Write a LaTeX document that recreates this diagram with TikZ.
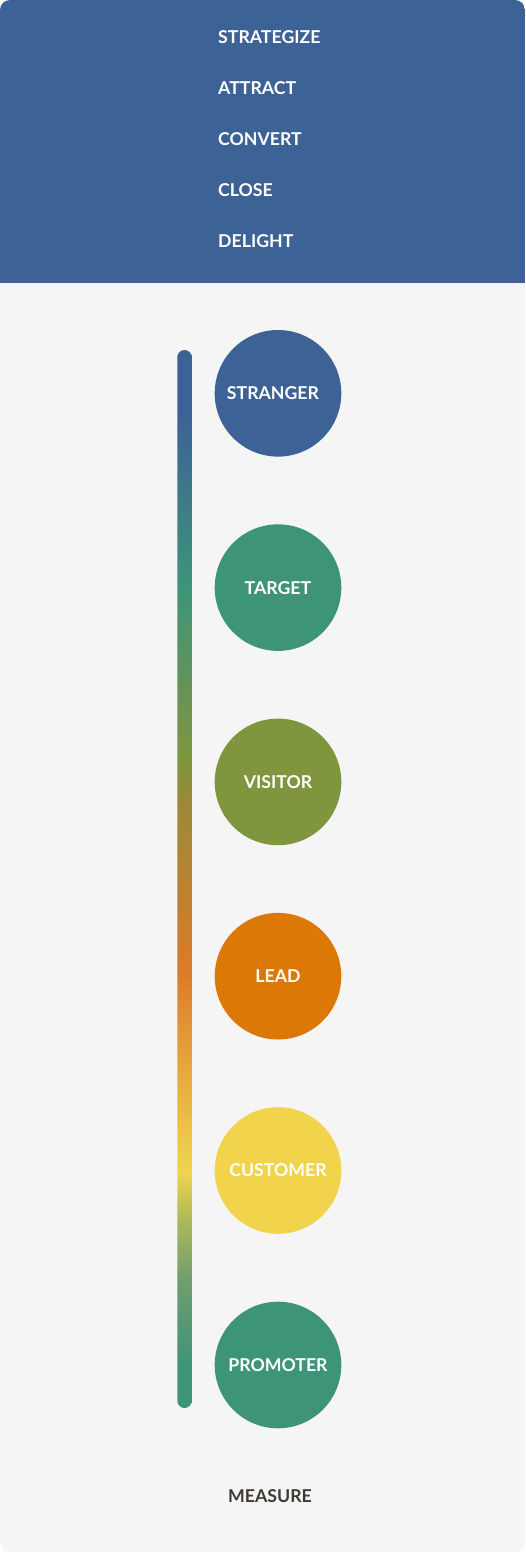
\documentclass[tikz,border=0pt]{standalone}
\usepackage{fontspec}
\newfontfamily\labfont{Lato}
\definecolor{hdrblue}{HTML}{3D6295}
\definecolor{cardbg}{HTML}{F5F5F5}
\definecolor{cteal}{HTML}{3E9479}
\definecolor{cgreen}{HTML}{80963E}
\definecolor{corange}{HTML}{DC7906}
\definecolor{cyellow}{HTML}{F1D44C}
\definecolor{measurec}{HTML}{3F3A35}
\definecolor{gA}{HTML}{6F9E6E}
\definecolor{gB}{HTML}{A8B65A}
\definecolor{gC}{HTML}{E3A03A}
\definecolor{gD}{HTML}{DC7A2A}
\definecolor{gE}{HTML}{9A8A38}
\definecolor{gF}{HTML}{6A9355}
\pgfdeclareverticalshading{barshade}{100bp}{color(0bp)=(cteal); color(25bp)=(cteal); color(27bp)=(cteal); color(31bp)=(gA); color(33.7bp)=(gB); color(36.2bp)=(cyellow); color(41.9bp)=(gC); color(45.6bp)=(gD); color(53.7bp)=(gE); color(55.6bp)=(cgreen); color(58.5bp)=(gF); color(63.8bp)=(cteal); color(72bp)=(hdrblue); color(75bp)=(hdrblue); color(100bp)=(hdrblue)}
\begin{document}
\begin{tikzpicture}[x=1pt,y=-1pt,
  hdrtext/.style={anchor=base west,text=white,inner sep=0pt,font=\labfont\bfseries\fontsize{17.7}{20}\selectfont},
  stage/.style={circle,minimum size=126.6pt,inner sep=0pt,text=white,font=\labfont\bfseries\fontsize{17.7}{20}\selectfont},
  measuretext/.style={anchor=base,text=measurec,inner sep=0pt,font=\labfont\bfseries\fontsize{17.7}{20}\selectfont}]
\useasboundingbox (0,0) rectangle (525,1552);
\fill[white] (0,0) rectangle (525,1552);
\begin{scope}
  \clip[rounded corners=10pt] (0,0) rectangle (525,1552);
  \fill[cardbg] (0,0) rectangle (525,1552);
  \fill[hdrblue] (0,0) rectangle (525,283);
\end{scope}
\node[hdrtext] (strategize) at (218,43.3) {STRATEGIZE};
\node[hdrtext] (attract) at (218,94.5) {ATTRACT};
\node[hdrtext] (convert) at (218,145.3) {CONVERT};
\node[hdrtext] (close) at (218,196.5) {CLOSE};
\node[hdrtext] (delight) at (218,247.3) {DELIGHT};
\shade[shading=barshade,rounded corners=7.2pt] (177.3,350) rectangle (191.7,1408);
\node[stage,fill=hdrblue] (stranger) at (278,393.3) {\hspace*{-10pt}STRANGER};
\node[stage,fill=cteal] (target) at (278,587.6) {TARGET};
\node[stage,fill=cgreen] (visitor) at (278,781.9) {VISITOR};
\node[stage,fill=corange] (lead) at (278,976.2) {LEAD};
\node[stage,fill=cyellow] (customer) at (278,1170.5) {CUSTOMER};
\node[stage,fill=cteal] (promoter) at (278,1365) {PROMOTER};
\node[measuretext] (measure) at (270,1502.7) {MEASURE};
\end{tikzpicture}
\end{document}
